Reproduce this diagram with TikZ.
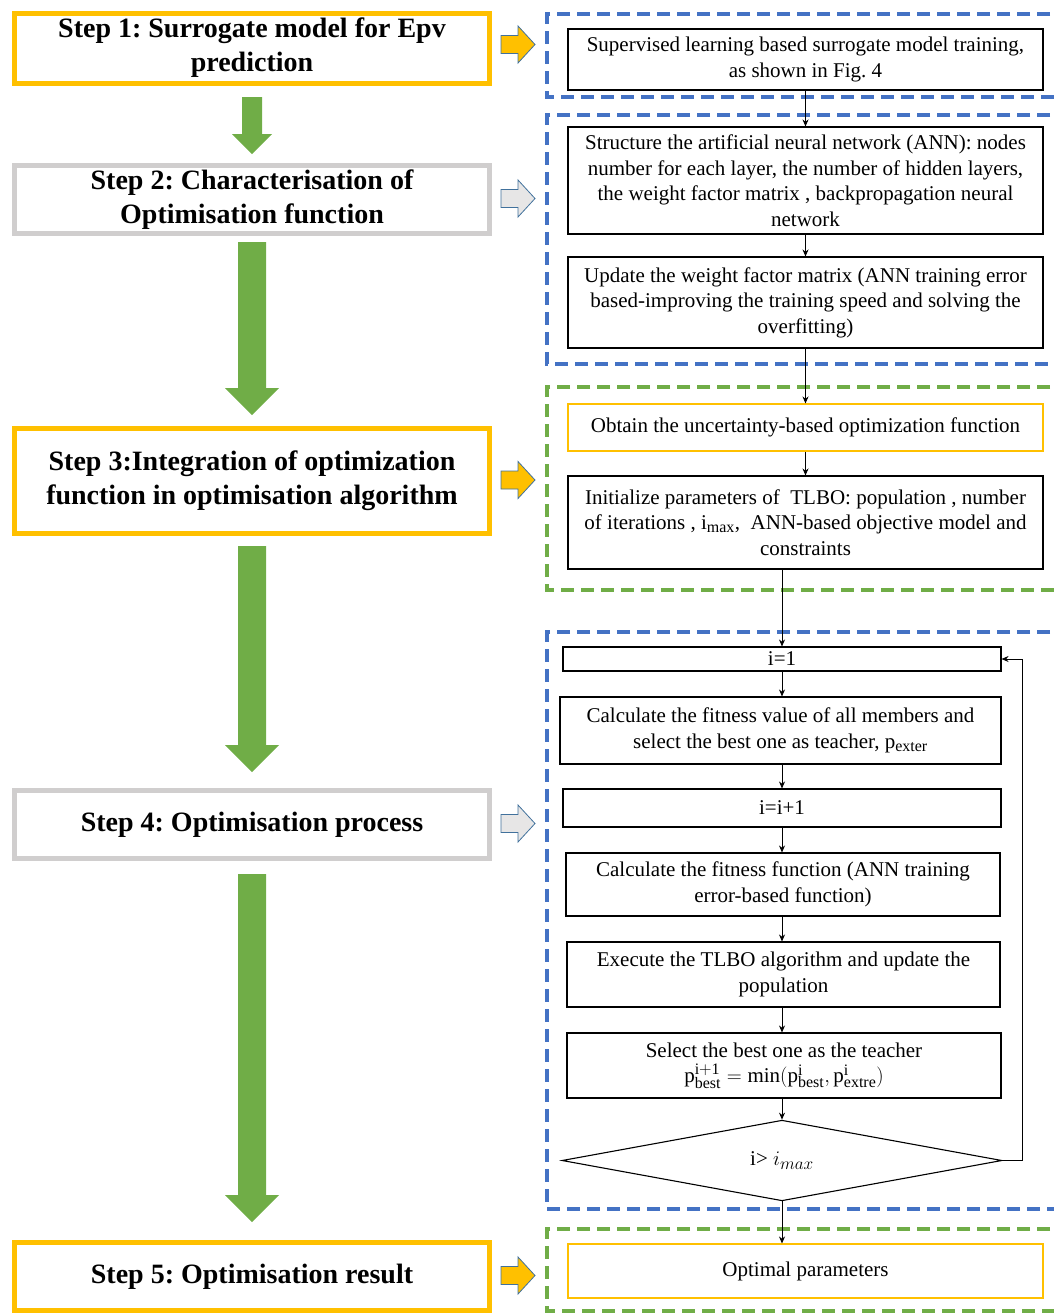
\documentclass[tikz,border=0pt]{standalone}
\usepackage{fontspec}
\setmainfont{Liberation Serif}
\frenchspacing
\DeclareMathSizes{21}{21}{16}{13}
\usetikzlibrary{arrows.meta, shapes.geometric}
\definecolor{stepgold}{HTML}{FFC000}
\definecolor{stepgray}{HTML}{D0CECE}
\definecolor{grpblue}{HTML}{4472C4}
\definecolor{grpgreen}{HTML}{70AD47}
\definecolor{arrfill}{HTML}{E7E6E6}
\definecolor{arrline}{HTML}{41719C}

\tikzset{
  stepbox/.style={draw, line width=5pt, minimum width=475pt, inner sep=0pt,
    align=center, font=\fontsize{28}{34}\selectfont\bfseries},
  goldstep/.style={stepbox, draw=stepgold},
  graystep/.style={stepbox, draw=stepgray},
  taskbox/.style={draw=black, line width=1.1pt, inner sep=0pt, align=center,
    font=\fontsize{21}{25.5}\selectfont},
  goalbox/.style={taskbox, draw=stepgold},
  bluegroup/.style={draw=grpblue, line width=4.5pt, dash pattern=on 13pt off 7pt},
  greengroup/.style={draw=grpgreen, line width=4.5pt, dash pattern=on 13pt off 7pt},
  flow/.style={-{Stealth[length=7pt, width=6pt]}, line width=0.8pt},
}

\begin{document}
\begin{tikzpicture}[x=1pt, y=-1pt]

\useasboundingbox (0,0) rectangle (1054,1315);

% Dashed groups on the right (open to the right edge)
\draw[bluegroup] (1070,14) -- (547,14) -- (547,97) -- (1070,97);
\draw[bluegroup] (1070,115) -- (547,115) -- (547,364) -- (1070,364);
\draw[greengroup] (1070,387) -- (547,387) -- (547,590) -- (1070,590);
\draw[bluegroup] (1070,632) -- (547,632) -- (547,1209) -- (1070,1209);
\draw[greengroup] (1070,1229) -- (547,1229) -- (547,1311) -- (1070,1311);

% Steps
\node[goldstep, minimum height=70pt] (s1) at (252,48)
  {Step 1: Surrogate model for Epv\\prediction};
\node[graystep, minimum height=68pt] (s2) at (252,199.5)
  {Step 2: Characterisation of\\Optimisation function};
\node[goldstep, minimum height=105pt] (s3) at (252,481)
  {Step 3:Integration of optimization\\function in optimisation algorithm};
\node[graystep, minimum height=68pt] (s4) at (252,824.5)
  {Step 4: Optimisation process};
\node[goldstep, minimum height=68pt] (s5) at (252,1276.5)
  {Step 5: Optimisation result};

% Green arrows between steps: top / neck / tip / half shaft / half head
\foreach \top/\neck/\tip/\sw/\hw in {97/134/154/10/20, 242/388/415/14/27,
    546/745/772/14/27, 874/1195/1222/14/27}
  \fill[grpgreen] (252-\sw,\top) -- (252+\sw,\top) -- (252+\sw,\neck)
    -- (252+\hw,\neck) -- (252,\tip) -- (252-\hw,\neck) -- (252-\sw,\neck) -- cycle;

% Side arrows towards the groups
\foreach \y/\c in {44.5/stepgold, 198.5/arrfill, 480/stepgold, 823.5/arrfill, 1275.5/stepgold}
  \filldraw[fill=\c, draw=arrline, line width=0.8pt]
    (501,\y-9) -- (518,\y-9) -- (518,\y-18.5) -- (535,\y) -- (518,\y+18.5)
    -- (518,\y+9) -- (501,\y+9) -- cycle;

% Right column, first part
\node[taskbox, minimum width=475pt, minimum height=61pt] (b1) at (805.5,59.5)
  {Supervised learning based surrogate model training,\\as shown in Fig. 4};
\node[taskbox, minimum width=475pt, minimum height=107pt] (b2) at (805.5,180.5)
  {Structure the artificial neural network (ANN): nodes\\number for each layer, the number of hidden layers,\\the weight factor matrix , backpropagation neural\\network};
\node[taskbox, minimum width=475pt, minimum height=91pt] (b3) at (805.5,302.5)
  {Update the weight factor matrix (ANN training error\\based-improving the training speed and solving the\\overfitting)};
\node[goalbox, minimum width=475pt, minimum height=47pt] (b4) at (805.5,427.5)
  {Obtain the uncertainty-based optimization function};
\node[taskbox, minimum width=475pt, minimum height=93pt] (b5) at (805.5,522.5)
  {Initialize parameters of\ \ TLBO: population , number\\of iterations , i$_{\mathrm{max}}$,\ \ ANN-based objective model and\\constraints};

% Right column, optimisation loop
\node[taskbox, minimum width=438pt, minimum height=24pt] (i1) at (782,659) {i=1};
\node[taskbox, minimum width=441pt, minimum height=67pt] (calc) at (780.5,730.5)
  {Calculate the fitness value of all members and\\select the best one as teacher, p$_{\mathrm{exter}}$};
\node[taskbox, minimum width=438pt, minimum height=38pt] (inc) at (782,808) {i=i+1};
\node[taskbox, minimum width=434pt, minimum height=63pt] (fitf) at (783,884.5)
  {Calculate the fitness function (ANN training\\error-based function)};
\node[taskbox, minimum width=433pt, minimum height=65pt] (exec) at (783.5,974.5)
  {Execute the TLBO algorithm and update the\\population};
\node[taskbox, minimum width=434pt, minimum height=65pt] (sel) at (784,1065.5)
  {Select the best one as the teacher\\
   $\mathrm{p}_{\mathrm{best}}^{\mathrm{i+1}} = \min(\mathrm{p}_{\mathrm{best}}^{\mathrm{i}},
   \mathrm{p}_{\mathrm{extre}}^{\mathrm{i}})$};
\node[taskbox, diamond, minimum width=440pt, minimum height=73pt] (dia) at (782,1160.5)
  {i> $i_{max}$};
\node[goalbox, minimum width=475pt, minimum height=54pt] (opt) at (805.5,1271)
  {Optimal parameters};

% Connectors
\draw[flow] (b1) -- (b2);
\draw[flow] (b2) -- (b3);
\draw[flow] (b3) -- (b4);
\draw[flow] (b4) -- (b5);
\draw[flow] (i1.north |- b5.south) -- (i1.north);
\draw[flow] (i1.south) -- (i1.south |- calc.north);
\draw[flow] (i1.south |- calc.south) -- (i1.south |- inc.north);
\draw[flow] (i1.south |- inc.south) -- (i1.south |- fitf.north);
\draw[flow] (i1.south |- fitf.south) -- (i1.south |- exec.north);
\draw[flow] (i1.south |- exec.south) -- (i1.south |- sel.north);
\draw[flow] (dia.north |- sel.south) -- (dia.north);
\draw[flow] (dia.east) -- ++(20,0) |- (i1.east);
\draw[flow] (dia.south) -- (dia.south |- opt.north);

\end{tikzpicture}
\end{document}
